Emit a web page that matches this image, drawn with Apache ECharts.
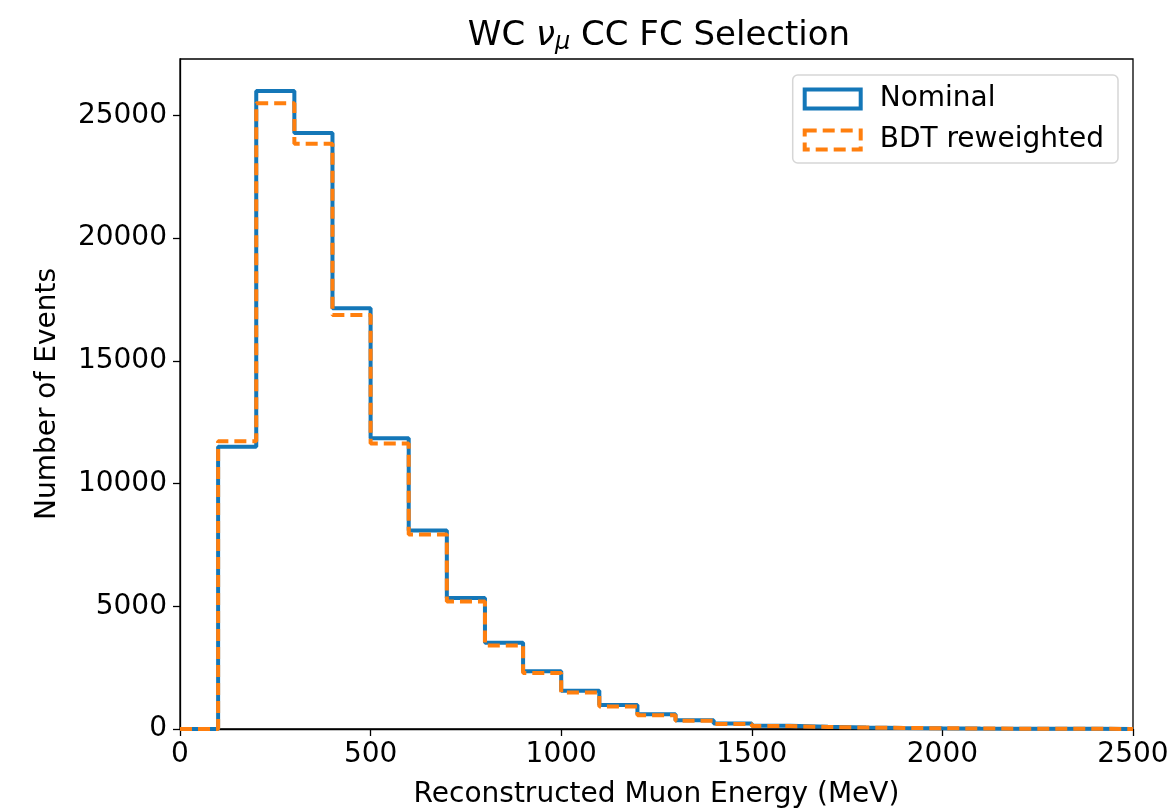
<!DOCTYPE html>
<html>
<head>
<meta charset="utf-8">
<script src="https://cdn.jsdelivr.net/npm/echarts@6/dist/echarts.min.js"></script>
<style>html,body{margin:0;padding:0;background:#fff;}#c{width:1167px;height:810px;}</style>
</head>
<body>
<div id="c"></div>
<script>
// Histogram bin left edges (MeV), bin width 100
const binEdges = [0,100,200,300,400,500,600,700,800,900,1000,1100,1200,1300,1400,1500,1600,1700,1800,1900,2000,2100,2200,2300,2400];
const binEnd = 2500;
// Nominal event counts per bin
const nominal = [0,11500,26000,24280,17140,11850,8090,5340,3510,2350,1560,975,600,360,220,130,90,65,45,32,22,15,10,7,4];
// BDT reweighted event counts per bin
const bdtReweighted = [0,11720,25500,23850,16870,11630,7930,5200,3400,2280,1490,920,560,335,205,120,82,60,42,30,20,14,9,6,4];
const xTicks = [0,500,1000,1500,2000,2500];
const yTicks = [0,5000,10000,15000,20000,25000];

function stepData(vals){
  const d = binEdges.map((e,i)=>[e, vals[i]]);
  d.push([binEnd, vals[vals.length-1]]);
  return d;
}
const FONT = 'DejaVu Sans';
const BLUE = '#1477b8', ORANGE = '#ff7f0e';
const chart = echarts.init(document.getElementById('c'));
chart.setOption({
  animation:false,
  backgroundColor:'#fff',
  textStyle:{fontFamily:FONT},
  title:{
    text:'WC {nu|ν}{sub|μ} CC FC Selection',
    left:654, top:12, textAlign:'center',
    textStyle:{fontFamily:FONT, fontSize:34, fontWeight:'normal', color:'#000',
      rich:{
        nu:{fontFamily:FONT, fontSize:34, fontStyle:'italic', color:'#000'},
        sub:{fontFamily:FONT, fontSize:24, fontStyle:'italic', color:'#000', padding:[14,0,0,0]}
      }}
  },
  legend:{
    orient:'vertical', right:49, top:75,
    itemWidth:56, itemHeight:19, itemGap:13,
    padding:[10,14,9,10],
    backgroundColor:'#fff', borderColor:'#d6d6d6', borderWidth:1.5, borderRadius:5,
    textStyle:{fontFamily:FONT, fontSize:28, color:'#000', padding:[0,0,0,14]},
    data:[
      {name:'Nominal', icon:'rect', itemStyle:{color:'rgba(0,0,0,0)', borderColor:BLUE, borderWidth:4, borderType:'solid'}},
      {name:'BDT reweighted', icon:'rect', itemStyle:{color:'rgba(0,0,0,0)', borderColor:ORANGE, borderWidth:4, borderType:[12,6]}}
    ]
  },
  grid:{left:180, right:34, top:59, bottom:81, outerBoundsMode:'none', containLabel:false, show:true, borderColor:'#000', borderWidth:1.3, backgroundColor:'transparent'},
  xAxis:{
    type:'value', min:xTicks[0], max:binEnd, interval:500,
    name:'Reconstructed Muon Energy (MeV)', nameLocation:'middle', nameGap:52,
    nameTextStyle:{fontFamily:FONT, fontSize:28, color:'#000'},
    axisLine:{show:true, lineStyle:{color:'#000', width:1.3}},
    axisTick:{show:true, inside:false, length:7, lineStyle:{color:'#000', width:1.3}},
    axisLabel:{fontFamily:FONT, fontSize:28, color:'#000', margin:12, formatter:v=>String(v)},
    splitLine:{show:false}
  },
  yAxis:{
    type:'value', min:yTicks[0], max:27300, interval:5000,
    name:'Number of Events', nameLocation:'middle', nameGap:118,
    nameTextStyle:{fontFamily:FONT, fontSize:28, color:'#000'},
    axisLine:{show:true, lineStyle:{color:'#000', width:1.3}},
    axisTick:{show:true, inside:false, length:7, lineStyle:{color:'#000', width:1.3}},
    axisLabel:{fontFamily:FONT, fontSize:28, color:'#000', margin:13, showMaxLabel:false, formatter:v=>String(v)},
    splitLine:{show:false}
  },
  series:[
    {name:'Nominal', type:'line', step:'end', data:stepData(nominal), showSymbol:false, symbol:'none', clip:false,
     lineStyle:{color:BLUE, width:4}, itemStyle:{color:BLUE}, z:2},
    {name:'BDT reweighted', type:'line', step:'end', data:stepData(bdtReweighted), showSymbol:false, symbol:'none', clip:false,
     lineStyle:{color:ORANGE, width:4, type:[12,6]}, itemStyle:{color:ORANGE}, z:3}
  ]
});
</script>
</body>
</html>
